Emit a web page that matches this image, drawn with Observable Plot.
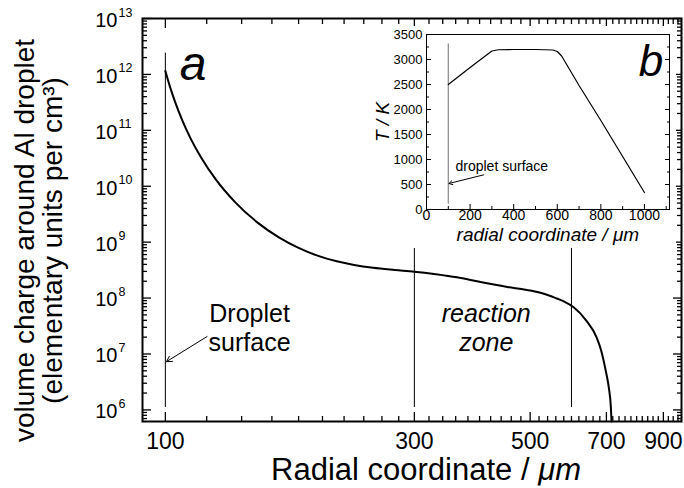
<!DOCTYPE html>
<html><head><meta charset="utf-8">
<script src="https://cdn.jsdelivr.net/npm/d3@7"></script>
<script src="https://cdn.jsdelivr.net/npm/@observablehq/plot@0.6"></script>
<style>
body{margin:0;background:#fff;font-family:"Liberation Sans",Arial,sans-serif}
#wrap{position:relative;width:684px;height:488px;overflow:hidden}
#inset{position:absolute;left:370px;top:26px}
</style></head><body><div id="wrap"><div id="main"></div><div id="inset"></div></div>
<script>
// ---- main panel (a): volume charge vs radial coordinate ----
const radius = [100,102,104,108,112,117,125,136,150,165,180,195,213,230,250,275,300,330,362,400,452,490,521,560,580,605,640,670,685,698,708,714,716];
const charge = [1.15e12,6.1e11,3.55e11,1.43e11,6.9e10,3.3e10,1.31e10,5.2e9,2.26e9,1.22e9,7.9e8,5.8e8,4.54e8,3.9e8,3.47e8,3.18e8,2.97e8,2.67e8,2.35e8,1.95e8,1.58e8,1.41e8,1.26e8,1.0e8,8.7e7,6.9e7,4.0e7,2.0e7,1.1e7,5e6,2.4e6,1.1e6,6.2e5];
const markerR = [100,300,600];
const markerTop = [2.4e12,1.1e9,1.1e9];
const markerBottom = [1.1e6,1.1e6,1.1e6];
const xTickLabels = [100,300,500,700,900];
const yExponents = [6,7,8,9,10,11,12,13];

// ---- inset (b): temperature vs radial coordinate ----
const tR = [100,200,300,330,400,500,580,600,620,700,800,900,1000];
const tK = [2500,2840,3170,3195,3200,3200,3190,3160,3070,2480,1780,1060,340];
const insetXTicks = [0,200,400,600,800,1000];
const insetYTicks = [0,500,1000,1500,2000,2500,3000,3500];

const FONT = "Liberation Sans, Arial, sans-serif";

const majorX = xTickLabels;
const minorX = d3.range(120, 980, 20).filter(v => !majorX.includes(v));
const majorY = yExponents.map(e => 10 ** e);
const minorY = [];
for (let e = 5; e <= 12; e++) for (let m = 2; m <= 9; m++) { const v = m * 10 ** e; if (v > 6.2e5 && v < 1e13) minorY.push(v); }

const curve = radius.map((r, i) => ({r, q: charge[i]}));
const markers = markerR.map((r, i) => ({r, y1: markerBottom[i], y2: markerTop[i]}));
const yLabels = yExponents.map(e => ({e, v: 10 ** e}));

const main = Plot.plot({
  width: 684, height: 488,
  marginLeft: 142, marginRight: 3, marginTop: 18, marginBottom: 67,
  x: {type: "log", domain: [90.4, 975]},
  y: {type: "log", domain: [6.2e5, 1e13]},
  style: {fontFamily: FONT, color: "black", background: "white", overflow: "visible"},
  marks: [
    // ticks (inward, mirrored on all four sides)
    Plot.axisX(majorX, {anchor: "bottom", tickSize: -9, tickFormat: () => "", label: null, strokeWidth: 1.3}),
    Plot.axisX(minorX, {anchor: "bottom", tickSize: -5, tickFormat: () => "", label: null, strokeWidth: 1.3}),
    Plot.axisX(majorX, {anchor: "top", tickSize: -9, tickFormat: () => "", label: null, strokeWidth: 1.3}),
    Plot.axisX(minorX, {anchor: "top", tickSize: -5, tickFormat: () => "", label: null, strokeWidth: 1.3}),
    Plot.axisY(majorY, {anchor: "left", tickSize: -9, tickFormat: () => "", label: null, strokeWidth: 1.3}),
    Plot.axisY(minorY, {anchor: "left", tickSize: -5, tickFormat: () => "", label: null, strokeWidth: 1.3}),
    Plot.axisY(majorY, {anchor: "right", tickSize: -9, tickFormat: () => "", label: null, strokeWidth: 1.3}),
    Plot.axisY(minorY, {anchor: "right", tickSize: -5, tickFormat: () => "", label: null, strokeWidth: 1.3}),
    // tick labels
    Plot.text(xTickLabels, {x: d => d, frameAnchor: "bottom", dy: 20, text: d => String(d), fontSize: 23, lineAnchor: "middle"}),
    Plot.text(yLabels, {y: "v", frameAnchor: "left", text: () => "10", textAnchor: "end", dx: -25, dy: 2, fontSize: 20, lineAnchor: "middle"}),
    Plot.text(yLabels, {y: "v", frameAnchor: "left", text: d => String(d.e), textAnchor: "start", dx: -24, dy: -6, fontSize: 12.5, lineAnchor: "middle"}),
    // axis titles
    Plot.text(["Radial coordinate / "], {x: [518], frameAnchor: "bottom", dy: 49, text: d => d, fontSize: 31, lineAnchor: "middle", textAnchor: "end"}),
    Plot.text(["\u03bcm"], {x: [518], frameAnchor: "bottom", dy: 49, text: d => d, fontSize: 31, lineAnchor: "middle", textAnchor: "start", fontStyle: "italic"}),
    Plot.text(["volume charge around Al droplet"], {y: [1.07e9], frameAnchor: "left", dx: -117, text: d => d, fontSize: 28, rotate: -90, lineAnchor: "middle", textAnchor: "middle"}),
    Plot.text(["(elementary units per cm\u00b3)"], {y: [1.07e9], frameAnchor: "left", dx: -89, text: d => d, fontSize: 28, rotate: -90, lineAnchor: "middle", textAnchor: "middle"}),
    // marker lines
    Plot.ruleX(markers, {x: "r", y1: "y1", y2: "y2", stroke: "black", strokeWidth: 1}),
    // curve
    Plot.line(curve, {x: "r", y: "q", stroke: "black", strokeWidth: 2, curve: "monotone-x"}),
    // annotations
    Plot.text(["Droplet", "surface"], {x: [145, 145], y: [3.8e7, 1.14e7], text: d => d, fontSize: 25, lineAnchor: "bottom"}),
    Plot.text(["reaction", "zone"], {x: [412, 412], y: [3.8e7, 1.14e7], text: d => d, fontSize: 25, lineAnchor: "bottom", fontStyle: "italic"}),
    Plot.arrow([0], {x1: 120.2, y1: 2.05e7, x2: 100.5, y2: 7.3e6, headLength: 9, strokeWidth: 1, stroke: "black"}),
    Plot.text(["a"], {x: [113], y: [1.5e12], text: d => d, fontSize: 48, fontStyle: "italic", lineAnchor: "middle"}),
    Plot.frame({stroke: "black", strokeWidth: 2})
  ]
});
document.getElementById("main").appendChild(main);

const tData = tR.map((r, i) => ({r, t: tK[i]}));
const inset = Plot.plot({
  width: 306, height: 222,
  marginLeft: 56, marginRight: 7, marginTop: 8, marginBottom: 39,
  x: {domain: [0, 1115]},
  y: {domain: [0, 3500]},
  style: {fontFamily: FONT, color: "black", background: "white", overflow: "visible"},
  marks: [
    Plot.axisX(insetXTicks, {anchor: "bottom", tickSize: -5, tickPadding: 6, tickFormat: d => String(d), fontSize: 14, label: null}),
    Plot.axisX(d3.range(100, 1101, 200), {anchor: "bottom", tickSize: -3, tickFormat: () => "", label: null}),
    Plot.axisY(insetYTicks, {anchor: "left", tickSize: -5, tickPadding: 9, tickFormat: d => String(d), fontSize: 13, label: null}),
    Plot.axisY(d3.range(250, 3500, 500), {anchor: "left", tickSize: -3, tickFormat: () => "", label: null}),
    Plot.axisY(insetYTicks, {anchor: "right", tickSize: -5, tickFormat: () => "", label: null}),
    Plot.axisY(d3.range(250, 3500, 500), {anchor: "right", tickSize: -3, tickFormat: () => "", label: null}),
    Plot.text(["radial coordinate / \u03bcm"], {x: [557], frameAnchor: "bottom", dy: 25, text: d => d, fontSize: 19, fontStyle: "italic", lineAnchor: "middle"}),
    Plot.text(["T / K"], {y: [1750], frameAnchor: "left", dx: -44, text: d => d, fontSize: 19, fontStyle: "italic", rotate: -90, lineAnchor: "middle", textAnchor: "middle"}),
    Plot.ruleX([100], {y1: 110, y2: 3310, stroke: "#888", strokeWidth: 1.2}),
    Plot.line(tData, {x: "r", y: "t", stroke: "black", strokeWidth: 1.2}),
    Plot.text(["droplet surface"], {x: [133], y: [780], text: d => d, fontSize: 14, textAnchor: "start", lineAnchor: "bottom"}),
    Plot.arrow([0], {x1: 263, y1: 694, x2: 103, y2: 520, headLength: 6, strokeWidth: 1, stroke: "black"}),
    Plot.text(["b"], {x: [1030], y: [2950], text: d => d, fontSize: 44, fontStyle: "italic", lineAnchor: "middle"}),
    Plot.frame({stroke: "black", strokeWidth: 1})
  ]
});
document.getElementById("inset").appendChild(inset);
</script>
</body></html>
